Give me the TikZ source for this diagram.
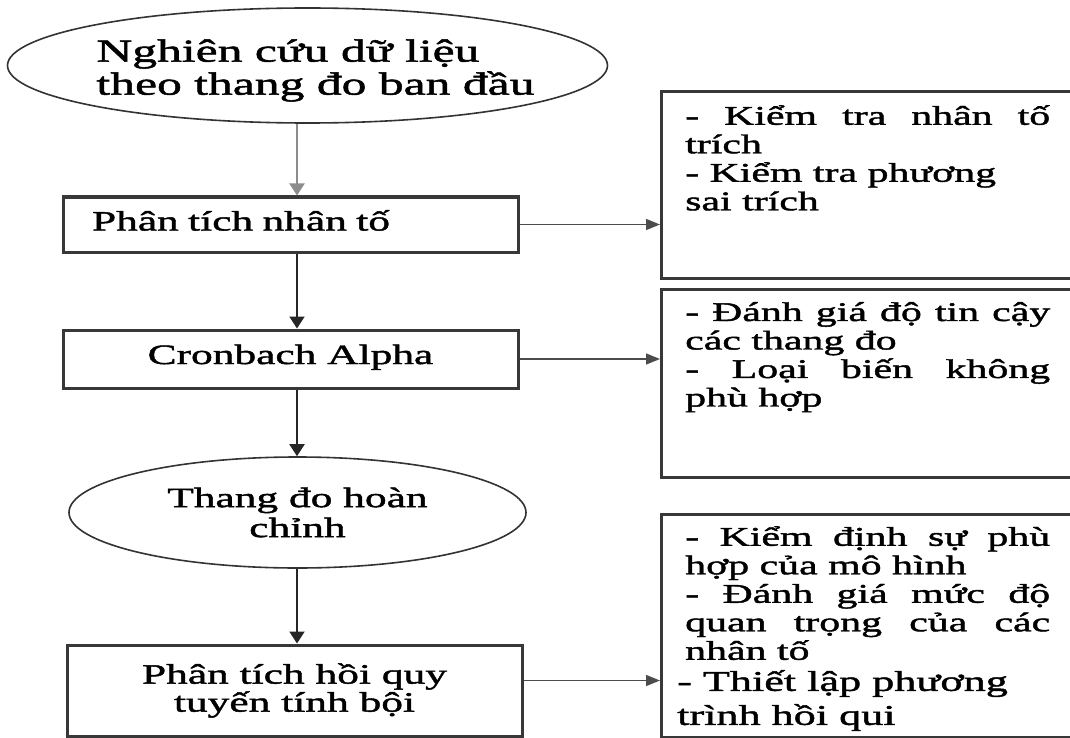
\documentclass[tikz,border=0pt]{standalone}
\usepackage{fontspec}
\setmainfont[FakeStretch=1.55,FakeBold=1.6]{Liberation Serif}
\usetikzlibrary{shapes.geometric,arrows.meta}

\newcommand{\fillline}[1]{\makebox[365pt][s]{#1}}

\begin{document}
\begin{tikzpicture}[x=1pt,y=-1pt,>={Triangle[length=12pt,width=15pt]},
  every node/.style={inner sep=0pt},
  oval/.style={ellipse,draw=black!80,line width=1.6pt},
  proc/.style={rectangle,draw=black!78,line width=3pt,minimum width=455pt},
  notebox/.style={rectangle,draw=black!78,line width=3pt,anchor=north west,minimum width=415pt},
  notetext/.style={anchor=north west,align=left,font=\fontsize{27}{28.5}\selectfont},
  flow/.style={->,line width=2pt,black!85},
  side/.style={-{Triangle[length=14pt,width=11pt]},line width=1.4pt,black!70}]
  \useasboundingbox (0,0) rectangle (1070,738);
  \coordinate (ax) at (297,0);

  \node[oval,minimum width=600pt,minimum height=115pt] (start) at (307.5,65.5) {};
  \node[align=left,font=\fontsize{32}{33}\selectfont] (starttxt) at ([xshift=8pt,yshift=-5pt]start.center)
    {Nghiên cứu dữ liệu\\theo thang đo ban đầu};
  \node[proc,minimum height=55pt,text width=397pt,align=left,text height=18pt,text depth=6pt,font=\fontsize{28}{30}\selectfont]
    (factor) at (290.5,224.5) {Phân tích nhân tố};
  \node[proc,minimum height=58pt,text height=18pt,text depth=8pt,font=\fontsize{28}{30}\selectfont]
    (alpha) at (290.5,359) {Cronbach Alpha};
  \node[oval,minimum width=457pt,minimum height=111pt,align=center,font=\fontsize{28}{30}\selectfont]
    (scale) at (297.5,512.5) {Thang đo hoàn\\chỉnh};
  \node[proc,minimum height=91pt,align=center,font=\fontsize{28}{28}\selectfont]
    (regr) at (294.5,690.5) {Phân tích hồi quy\\tuyến tính bội};

  \node[notebox,minimum height=187pt] (note1) at (660,90) {};
  \node[notetext] (note1txt) at ([xshift=25pt,yshift=-15pt]note1.north west)
    {\fillline{- Kiểm tra nhân tố}\\trích\\- Kiểm tra phương\\sai trích};
  \node[notebox,minimum height=188pt] (note2) at (660,288) {};
  \node[notetext] (note2txt) at ([xshift=25pt,yshift=-14pt]note2.north west)
    {\fillline{- Đánh giá độ tin cậy}\\các thang đo\\\fillline{- Loại biến không}\\phù hợp};
  \node[notebox,minimum height=223pt] (note3) at (660,513) {};
  \node[notetext] (note3txt) at ([xshift=25pt,yshift=-13pt]note3.north west)
    {\fillline{- Kiểm định sự phù}\\hợp của mô hình\\\fillline{- Đánh giá mức độ}\\\fillline{quan trọng của các}\\nhân tố};
  \node[notetext,font=\fontsize{28.5}{34}\selectfont] (note3end) at ([xshift=17pt,yshift=-157pt]note3.north west)
    {- Thiết lập phương\\trình hồi qui};

  \draw[flow,black!45] (start.south -| ax) -- (factor.north -| ax);
  \draw[flow] (factor.south -| ax) -- (alpha.north -| ax);
  \draw[flow] (alpha.south -| ax) -- (scale.north -| ax);
  \draw[flow] (scale.south -| ax) -- (regr.north -| ax);

  \draw[side] (factor.east) -- (factor.east -| note1.west);
  \draw[side] (alpha.east) -- (alpha.east -| note2.west);
  \draw[side] ([yshift=10pt]regr.east) -- ([yshift=10pt]regr.east -| note3.west);
\end{tikzpicture}
\end{document}
